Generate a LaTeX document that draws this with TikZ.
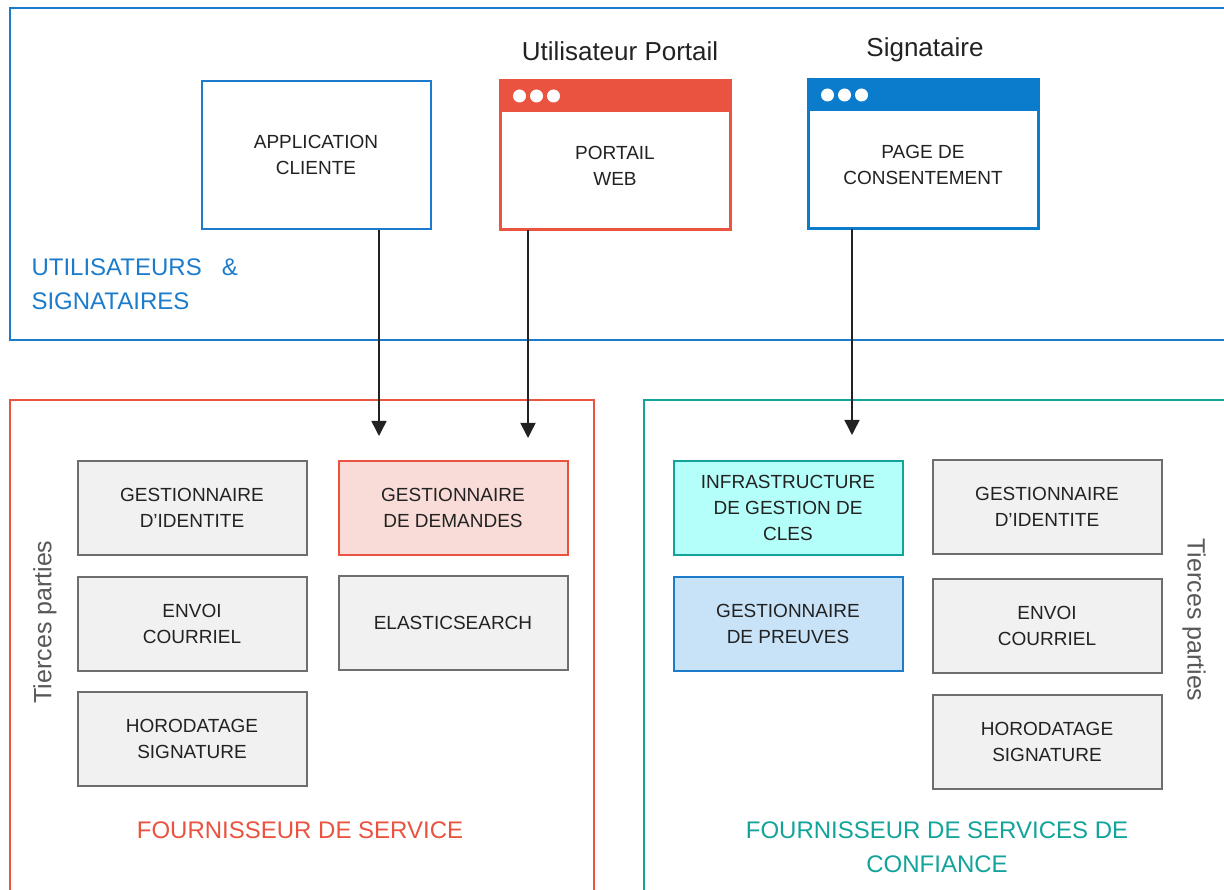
\documentclass[tikz,border=0pt]{standalone}
\usepackage{fontspec}
\setmainfont{Liberation Sans}
\usetikzlibrary{arrows.meta}
\definecolor{bleu}{HTML}{1C7CCB}
\definecolor{bleuentete}{HTML}{0B7BCB}
\definecolor{rouge}{HTML}{E9533F}
\definecolor{sarcelle}{HTML}{12A39A}
\definecolor{cyanfond}{HTML}{B5FFFA}
\definecolor{bleufond}{HTML}{C8E3F8}
\definecolor{rosefond}{HTML}{F9DCD8}
\definecolor{grisfond}{HTML}{F1F1F1}
\definecolor{grisbord}{HTML}{6E6E6E}
\definecolor{noir}{HTML}{222222}

\tikzset{
  boite/.style={draw=grisbord,fill=grisfond,line width=2pt,minimum width=229pt,minimum height=94pt,
    align=center,text=noir,font=\fontsize{19}{26}\selectfont},
  fenetre/.style={draw=#1,fill=white,line width=2pt,minimum width=229pt,minimum height=148pt},
  titre/.style={text=noir,font=\fontsize{26}{30}\selectfont},
  groupe/.style={text=#1,align=center,font=\fontsize{24}{34}\selectfont},
  tierces/.style={text=grisbord!80!black,font=\fontsize{25}{30}\selectfont},
  fleche/.style={draw=noir,line width=1.5pt,-{Triangle[length=15pt,width=15pt]}}
}

\begin{document}
\begin{tikzpicture}[x=1pt,y=-1pt]
\useasboundingbox (0,0) rectangle (1224,890);

% cadres
\draw[bleu,line width=2pt] (10,8) rectangle (1240,340);
\draw[rouge,line width=2pt] (10,400) rectangle (594,900);
\draw[sarcelle,line width=2pt] (644,400) rectangle (1240,900);

% utilisateurs
\node[titre] (tPortail) at (620,51) {Utilisateur Portail};
\node[titre] (tSign) at (925,50) {Signataire};

\node[fenetre=bleu,align=center,text=noir,font=\fontsize{19}{26}\selectfont] (app) at (316,155) {APPLICATION\\CLIENTE};

\node[fenetre=rouge] (portail) at (615,155) {};
\fill[rouge] (portail.north west) rectangle ([yshift=-32pt]portail.north east);
\draw[rouge,line width=2pt] (portail.north west) rectangle (portail.south east);
\foreach \dx in {20,37,54} \fill[white] ([xshift=\dx pt,yshift=-16pt]portail.north west) circle (6.5pt);
\node[align=center,text=noir,font=\fontsize{19}{26}\selectfont] (portailTxt) at (615,166) {PORTAIL\\WEB};

\node[fenetre=bleuentete] (page) at (923,154) {};
\fill[bleuentete] (page.north west) rectangle ([yshift=-32pt]page.north east);
\draw[bleuentete,line width=2pt] (page.north west) rectangle (page.south east);
\foreach \dx in {20,37,54} \fill[white] ([xshift=\dx pt,yshift=-16pt]page.north west) circle (6.5pt);
\node[align=center,text=noir,font=\fontsize{19}{26}\selectfont] (pageTxt) at (923,165) {PAGE DE\\CONSENTEMENT};

\node[groupe=bleu,align=left,anchor=west] (uLbl) at (28,284) {UTILISATEURS~~~\&\\SIGNATAIRES};

% fournisseur de service
\node[boite] (idFs) at (192,508) {GESTIONNAIRE\\D'IDENTITE};
\node[boite] (courFs) at (192,624) {ENVOI\\COURRIEL};
\node[boite] (horoFs) at (192,739) {HORODATAGE\\SIGNATURE};
\node[boite,draw=rouge,fill=rosefond] (dem) at (453,508) {GESTIONNAIRE\\DE DEMANDES};
\node[boite] (elas) at (453,623) {ELASTICSEARCH};
\node[tierces,rotate=90] (tpG) at (45,622) {Tierces parties};
\node[groupe=rouge] (fsLbl) at (300,830) {FOURNISSEUR DE SERVICE};

% fournisseur de services de confiance
\node[boite,draw=sarcelle,fill=cyanfond] (igc) at (788,508) {INFRASTRUCTURE\\DE GESTION DE\\CLES};
\node[boite,draw=bleu,fill=bleufond] (preuves) at (788,624) {GESTIONNAIRE\\DE PREUVES};
\node[boite] (idFc) at (1047,507) {GESTIONNAIRE\\D'IDENTITE};
\node[boite] (courFc) at (1047,626) {ENVOI\\COURRIEL};
\node[boite] (horoFc) at (1047,742) {HORODATAGE\\SIGNATURE};
\node[tierces,rotate=-90] (tpD) at (1194,620) {Tierces parties};
\node[groupe=sarcelle] (fcLbl) at (937,847) {FOURNISSEUR DE SERVICES DE\\CONFIANCE};

% liens
\coordinate (appIn) at (379,436);
\coordinate (portailIn) at (528,438);
\coordinate (pageIn) at (852,435);
\draw[fleche] (app.south -| appIn) -- (appIn);
\draw[fleche] (portail.south -| portailIn) -- (portailIn);
\draw[fleche] (page.south -| pageIn) -- (pageIn);
\end{tikzpicture}
\end{document}
